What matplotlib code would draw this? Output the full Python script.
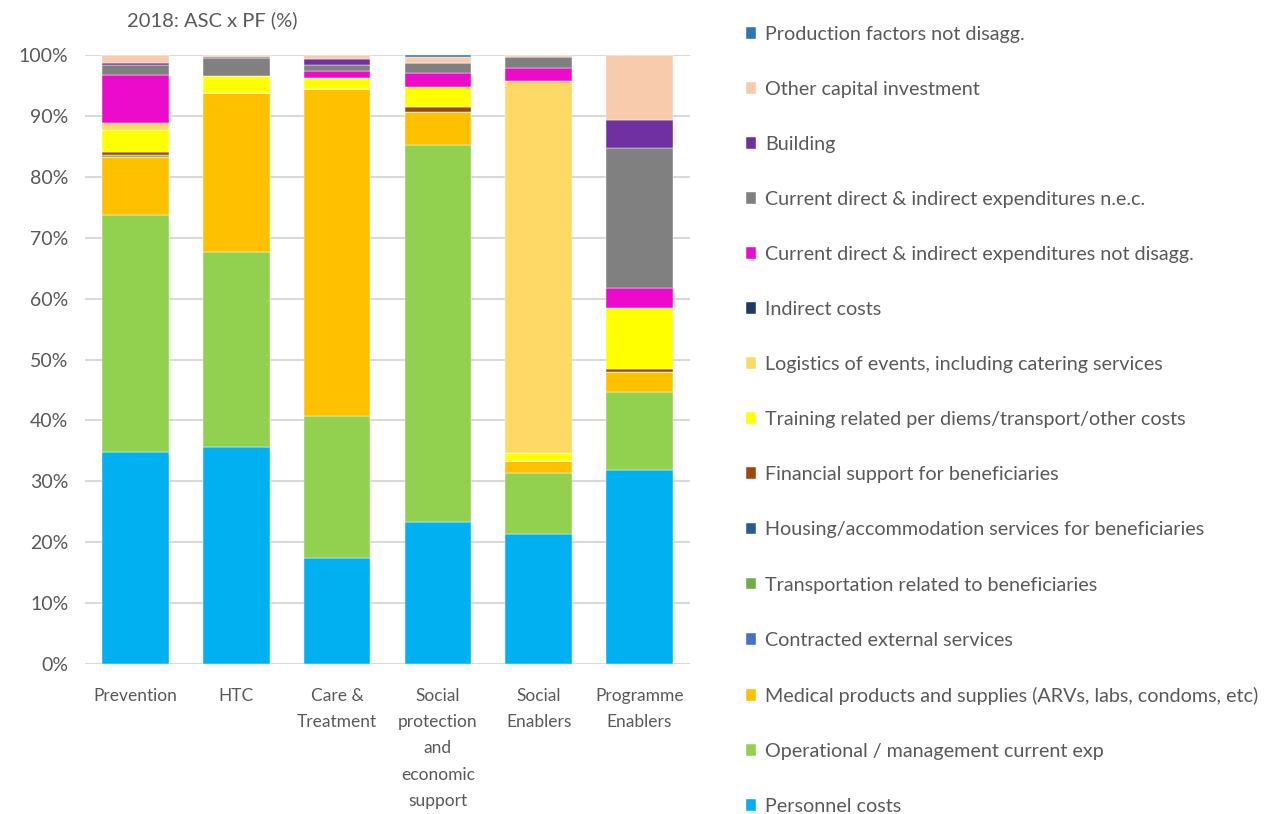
import numpy as np
import matplotlib
matplotlib.use('Agg')
import matplotlib.pyplot as plt
from matplotlib.ticker import PercentFormatter

plt.rcParams['font.family'] = ['Lato', 'DejaVu Sans']

categories = ['Prevention', 'HTC', 'Care &\nTreatment',
              'Social\nprotection\nand\neconomic\nsupport',
              'Social\nEnablers', 'Programme\nEnablers']

# share of each production factor (%), bottom of the stack first
personnel = [34.8, 35.6, 17.4, 23.3, 21.3, 31.9]
operational = [38.9, 32.1, 23.3, 61.9, 10.1, 12.8]
medical = [9.6, 26.0, 53.7, 5.4, 1.9, 3.3]
contracted = [0, 0, 0, 0, 0, 0]
transport = [0.3, 0, 0, 0, 0, 0]
housing = [0, 0, 0, 0, 0, 0]
financial = [0.5, 0, 0, 0.9, 0, 0.4]
training = [3.6, 2.9, 1.8, 3.2, 1.3, 10.1]
logistics = [1.1, 0, 0, 0, 61.1, 0]
indirect = [0, 0, 0, 0, 0, 0]
current_nd = [7.9, 0, 1.1, 2.4, 2.1, 3.3]
current_nec = [1.6, 2.9, 1.0, 1.6, 1.9, 23.0]
building = [0.4, 0.2, 1.1, 0, 0, 4.5]
other_capital = [1.3, 0.3, 0.6, 0.9, 0.3, 10.7]
production = [0, 0, 0, 0.4, 0, 0]

series = [
    ('Personnel costs', personnel, '#00B0F0'),
    ('Operational / management current exp', operational, '#92D050'),
    ('Medical products and supplies (ARVs, labs, condoms, etc)', medical, '#FFC000'),
    ('Contracted external services', contracted, '#4472C4'),
    ('Transportation related to beneficiaries', transport, '#70AD47'),
    ('Housing/accommodation services for beneficiaries', housing, '#255E91'),
    ('Financial support for beneficiaries', financial, '#9E480E'),
    ('Training related per diems/transport/other costs', training, '#FFFF00'),
    ('Logistics of events, including catering services', logistics, '#FFD966'),
    ('Indirect costs', indirect, '#203864'),
    ('Current direct & indirect expenditures not disagg.', current_nd, '#EC0BCB'),
    ('Current direct & indirect expenditures n.e.c.', current_nec, '#808080'),
    ('Building', building, '#7030A0'),
    ('Other capital investment', other_capital, '#F8CBAD'),
    ('Production factors not disagg.', production, '#2E75B6'),
]

text_col = '#595959'

fig = plt.figure(figsize=(12.86, 8.14), dpi=100)
ax = fig.add_axes([0.0661, 0.1843, 0.4704, 0.7481])

x = np.arange(len(categories))
bottom = np.zeros(len(categories))
handles = []
for label, vals, col in series:
    vals = np.array(vals, dtype=float)
    b = ax.bar(x, vals, 0.66, bottom=bottom, color=col, label=label,
               edgecolor='white', linewidth=0.3, zorder=3)
    handles.append(b)
    bottom += vals

ax.set_xlim(-0.5, len(categories) - 0.5)
ax.set_ylim(0, 100)
ax.set_yticks(np.arange(0, 101, 10))
ax.yaxis.set_major_formatter(PercentFormatter(decimals=0))
ax.grid(axis='y', color='#D9D9D9', linewidth=1.5, zorder=0)
for s in ax.spines.values():
    s.set_visible(False)
ax.tick_params(axis='both', length=0, colors=text_col, labelsize=12.5)
ax.tick_params(axis='y', pad=12, labelsize=14)
ax.tick_params(axis='x', pad=17)
ax.set_xticks(x)
ax.set_xticklabels(categories, linespacing=1.8, va='top')

fig.text(0.165, 0.975, '2018: ASC x PF (%)', ha='center', va='center',
         fontsize=14.5, color=text_col)

leg = fig.legend(handles[::-1], [s[0] for s in series][::-1],
                 loc='upper left', bbox_to_anchor=(0.566, 0.99),
                 frameon=False, fontsize=14.2, labelspacing=1.93,
                 handlelength=0.55, handleheight=0.55, handletextpad=0.45,
                 labelcolor=text_col)

fig.savefig('out.png', dpi=100)
